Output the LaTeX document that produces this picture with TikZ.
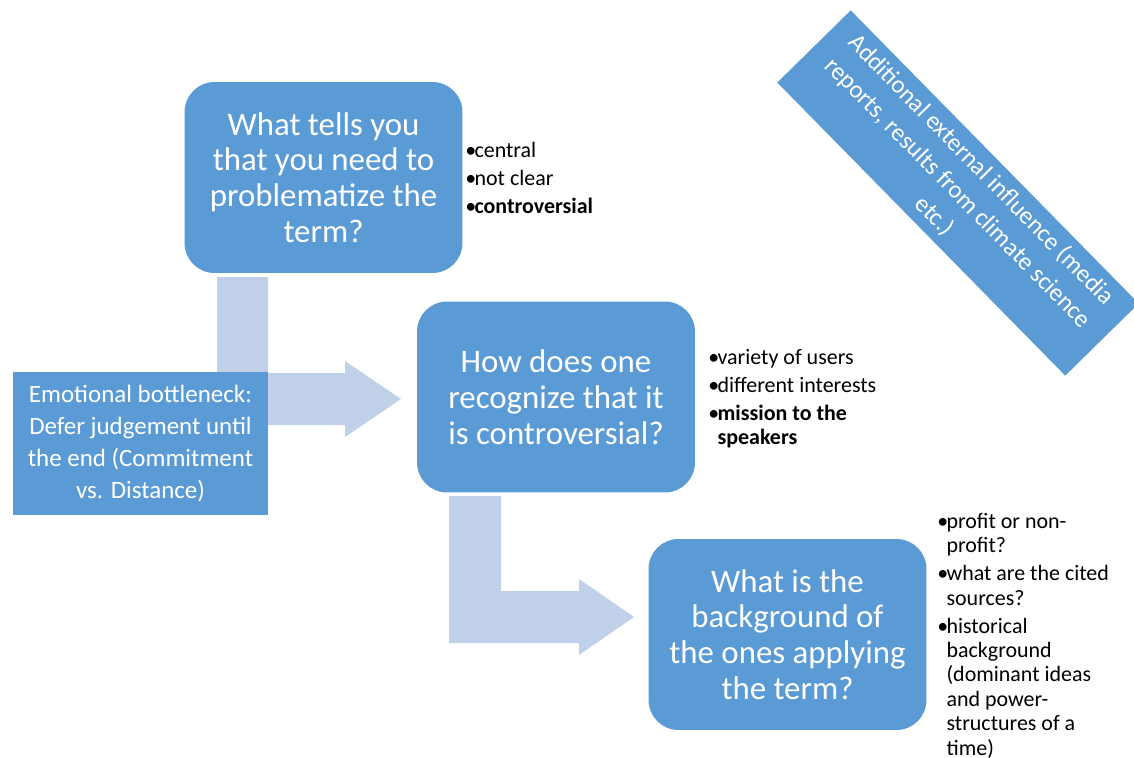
\documentclass[tikz,border=0pt]{standalone}
\usepackage{fontspec}
\setmainfont{Carlito}
\usetikzlibrary{positioning}

\definecolor{boxblue}{RGB}{91,155,213}
\definecolor{arrowblue}{RGB}{191,208,232}

\tikzset{
  question/.style={rounded corners=0.6cm, fill=boxblue, text=white,
    minimum width=5.56cm, minimum height=3.82cm, align=center,
    font=\fontsize{18.7}{20.4}\selectfont},
  hint/.style={fill=boxblue, text=white, align=center,
    font=\fontsize{14.2}{18.1}\selectfont},
  notes/.style={anchor=north west, inner sep=0pt, text width=4cm, align=left,
    font=\fontsize{12.5}{13.9}\selectfont,
    execute at begin node=\setlength{\parskip}{2pt}},
  bendarrow/.style={fill=arrowblue}
}
\newcommand{\itm}{\par\spaceskip=0pt\hangindent=0.42em\hangafter=1\noindent\makebox[0.42em][l]{\textbullet}}

\begin{document}
\begin{tikzpicture}[x=0.02cm, y=-0.02cm]
  \useasboundingbox (0,0) rectangle (1134,758);
  \clip (0,0) rectangle (1134,758);

  % bent arrows
  \fill[bendarrow] (217,277) -- (268,277) -- (268,373) -- (345,373) -- (345,361)
    -- (401,399) -- (345,437) -- (345,425) -- (217,425) -- cycle;
  \fill[bendarrow] (449,496) -- (501,496) -- (501,591) -- (579,591) -- (579,579)
    -- (634,617) -- (579,655) -- (579,643) -- (449,643) -- cycle;

  % questions
  \draw (323.5,177.5) node [question] (q1) {What tells you\\that you need to\\problematize the\\term?};
  \draw (556,397) node [question] (q2) {How does one\\recognize that it\\is controversial?};
  \draw (787.5,634.5) node [question] (q3) {What is the\\background of\\the ones applying\\the term?};

  % side boxes
  \draw (140.5,443.5) node [hint, minimum width=5.1cm, minimum height=2.86cm] (emo)
    {Emotional bottleneck:\\Defer judgement until\\the end (Commitment\\vs. Distance)};
  \draw (958,193) node [hint, rotate=-45.5, minimum width=8.22cm, minimum height=2.06cm,
    font=\fontsize{14.2}{18.7}\selectfont] (ext)
    {Additional external influence (media\\reports, results from climate science\\etc.)};

  % notes
  \draw (465,129) node [notes] (n1) {\itm central\itm not clear\itm \textbf{controversial}\par};
  \draw (708,336) node [notes] (n2) {\itm variety of users\itm different interests\itm \textbf{mission to the\newline speakers}\par};
  \draw (937,500) node [notes] (n3) {\itm profit or non-\newline profit?\itm what are the cited\newline sources?\itm historical\newline background\newline (dominant ideas\newline and power-\newline structures of a\newline time)\par};
\end{tikzpicture}
\end{document}
